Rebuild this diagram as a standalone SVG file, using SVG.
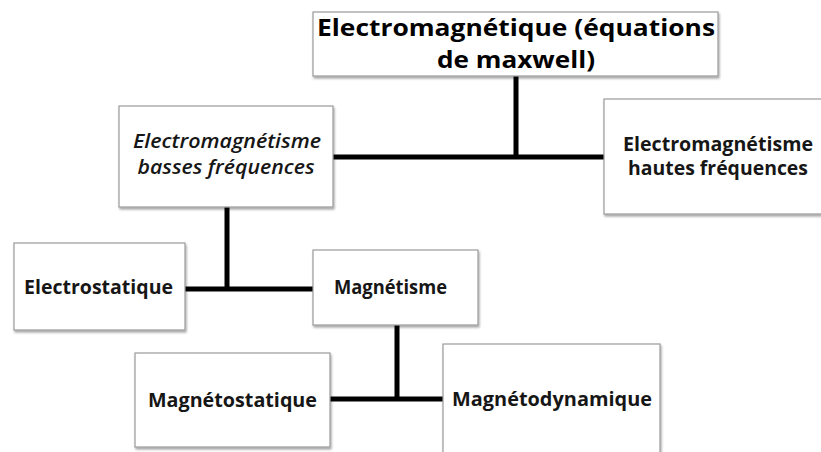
<svg xmlns="http://www.w3.org/2000/svg" width="821" height="452" viewBox="0 0 821 452">
<defs>
<filter id="sh" x="-5%" y="-5%" width="115%" height="120%">
<feDropShadow dx="1" dy="2" stdDeviation="1.2" flood-color="#000" flood-opacity="0.35"/>
</filter>
</defs>
<style>
.box{fill:#fff;stroke:#9a9a9a;stroke-width:1.2;filter:url(#sh)}
.t{font-family:"Open Sans","Noto Sans","Liberation Sans",sans-serif;font-weight:bold;fill:#161616;text-anchor:middle}
.n{font-size:19px}
.i{font-style:italic;font-weight:600}
.big{font-size:23px;fill:#000}
.c{stroke:#000;stroke-width:5;fill:none}
</style>
<rect width="821" height="452" fill="#fff"/>
<g id="connectors">
<path class="c" d="M516 76V157M333 157H604"/>
<path class="c" d="M227 207V289M185 289H313"/>
<path class="c" d="M397 325V399M330 399H443"/>
</g>
<g id="n-top">
<rect class="box" x="313" y="12" width="405" height="64"/>
<text class="t big" x="516" y="36" textLength="398" lengthAdjust="spacingAndGlyphs">Electromagnétique (équations</text>
<text class="t big" x="516" y="68" textLength="158" lengthAdjust="spacingAndGlyphs">de maxwell)</text>
</g>
<g id="n-basses">
<rect class="box" x="119" y="106" width="214" height="101"/>
<text class="t n i" x="227" y="148" textLength="188" lengthAdjust="spacingAndGlyphs">Electromagnétisme</text>
<text class="t n i" x="226" y="174" textLength="177" lengthAdjust="spacingAndGlyphs">basses fréquences</text>
</g>
<g id="n-hautes">
<rect class="box" x="604" y="99" width="230" height="115"/>
<text class="t n" x="718" y="151" textLength="190" lengthAdjust="spacingAndGlyphs">Electromagnétisme</text>
<text class="t n" x="718" y="175" textLength="180" lengthAdjust="spacingAndGlyphs">hautes fréquences</text>
</g>
<g id="n-electrostatique">
<rect class="box" x="14" y="243" width="171" height="87"/>
<text class="t n" x="98.5" y="294" textLength="149" lengthAdjust="spacingAndGlyphs">Electrostatique</text>
</g>
<g id="n-magnetisme">
<rect class="box" x="313" y="250" width="165" height="75"/>
<text class="t n" x="390.5" y="294" textLength="113" lengthAdjust="spacingAndGlyphs">Magnétisme</text>
</g>
<g id="n-magnetostatique">
<rect class="box" x="135" y="353" width="195" height="94"/>
<text class="t n" x="232.5" y="407" textLength="169" lengthAdjust="spacingAndGlyphs">Magnétostatique</text>
</g>
<g id="n-magnetodynamique">
<rect class="box" x="443" y="344" width="217" height="120"/>
<text class="t n" x="552" y="406" textLength="200" lengthAdjust="spacingAndGlyphs">Magnétodynamique</text>
</g>
</svg>
